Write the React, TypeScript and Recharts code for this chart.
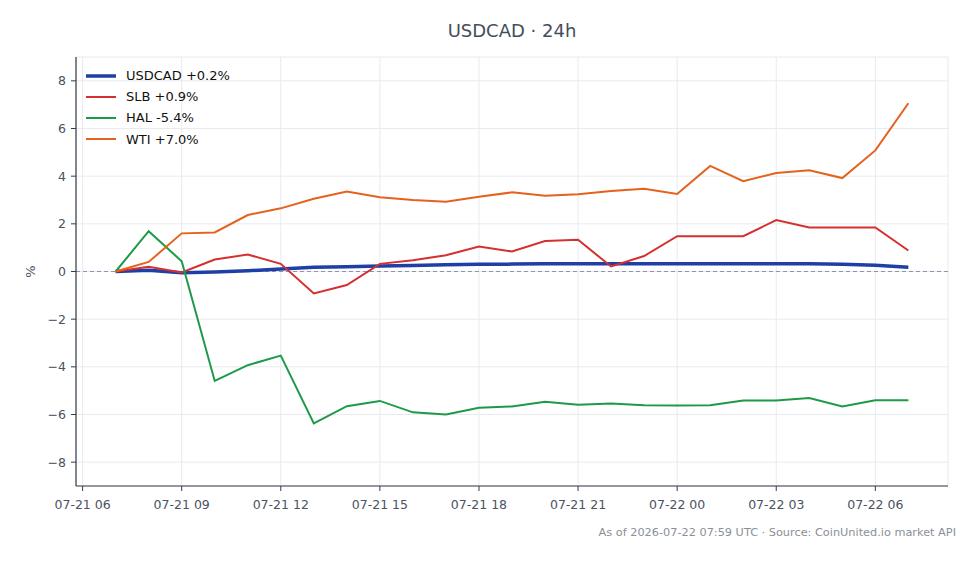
import React from "react";
import {
  LineChart,
  Line,
  XAxis,
  YAxis,
  CartesianGrid,
  ReferenceLine,
} from "recharts";

// hours since 2026-07-21 00:00 UTC
const hours = [7, 8, 9, 10, 11, 12, 13, 14, 15, 16, 17, 18, 19, 20, 21, 22, 23, 24, 25, 26, 27, 28, 29, 30, 31];

const usdcad = [0, 0.05, -0.05, -0.02, 0.03, 0.1, 0.18, 0.2, 0.23, 0.25, 0.28, 0.3, 0.31, 0.32, 0.33, 0.33, 0.33, 0.32, 0.32, 0.32, 0.32, 0.32, 0.3, 0.26, 0.18];
const slb = [0, 0.2, -0.04, 0.5, 0.71, 0.32, -0.92, -0.57, 0.32, 0.47, 0.68, 1.05, 0.84, 1.28, 1.33, 0.21, 0.65, 1.48, 1.48, 1.48, 2.16, 1.85, 1.85, 1.85, 0.88];
const hal = [0, 1.69, 0.43, -4.59, -3.93, -3.53, -6.37, -5.65, -5.43, -5.91, -6.0, -5.72, -5.66, -5.47, -5.59, -5.54, -5.61, -5.62, -5.61, -5.41, -5.41, -5.31, -5.66, -5.4, -5.4];
const wti = [0, 0.4, 1.6, 1.64, 2.37, 2.65, 3.05, 3.36, 3.12, 3.0, 2.93, 3.14, 3.32, 3.18, 3.24, 3.38, 3.47, 3.25, 4.43, 3.79, 4.13, 4.25, 3.92, 5.08, 7.06];

const xTicks = [6, 9, 12, 15, 18, 21, 24, 27, 30];
const yTicks = [-8, -6, -4, -2, 0, 2, 4, 6, 8];

const seriesInfo = [
  { key: "usdcad", name: "USDCAD +0.2%", color: "#1f3fa6", width: 3.5 },
  { key: "slb", name: "SLB +0.9%", color: "#d3302f", width: 2 },
  { key: "hal", name: "HAL -5.4%", color: "#1d9a48", width: 2 },
  { key: "wti", name: "WTI +7.0%", color: "#e5621c", width: 2 },
];

const data = hours.map((h, i) => ({
  h,
  usdcad: usdcad[i],
  slb: slb[i],
  hal: hal[i],
  wti: wti[i],
}));

const FONT = "'DejaVu Sans', sans-serif";
const TICK_COLOR = "#4a5263";
const AXIS_COLOR = "#333b4a";

const fmtX = (v: number) => {
  const day = 21 + Math.floor(v / 24);
  const hr = v % 24;
  return `07-${day} ${String(hr).padStart(2, "0")}`;
};
const fmtY = (v: number) => (v < 0 ? `\u2212${Math.abs(v)}` : `${v}`);

const LegendBox = () => (
  <div style={{ position: "absolute", left: 84, top: 65, fontFamily: FONT, fontSize: 13, color: "#111" }}>
    {seriesInfo.map((s) => (
      <div key={s.key} style={{ display: "flex", alignItems: "center", height: 21.2 }}>
        <svg width={42} height={10} style={{ display: "block" }}>
          <line x1={2} x2={32} y1={5} y2={5} stroke={s.color} strokeWidth={s.width} />
        </svg>
        <span>{s.name}</span>
      </div>
    ))}
  </div>
);

export default function App() {
  return (
    <div style={{ position: "absolute", left: 0, top: 0, width: 980, height: 564, background: "#fff", fontFamily: FONT }}>
      <div
        style={{
          position: "absolute",
          left: 76,
          width: 872,
          top: 20,
          textAlign: "center",
          fontSize: 18,
          color: "#454d5c",
          fontFamily: FONT,
        }}
      >
        USDCAD · 24h
      </div>
      <LineChart
        width={980}
        height={564}
        data={data}
        margin={{ top: 57, right: 32, bottom: 48, left: 0 }}
      >
        <CartesianGrid stroke="#e8eaf0" strokeWidth={1} />
        <XAxis
          dataKey="h"
          type="number"
          domain={[5.8, 32.2]}
          ticks={xTicks}
          tickFormatter={fmtX}
          allowDataOverflow
          height={30}
          tickSize={5}
          tickMargin={9}
          tick={{ fill: TICK_COLOR, fontSize: 12.5, fontFamily: FONT }}
          stroke={AXIS_COLOR}
          tickLine={{ stroke: AXIS_COLOR }}
          axisLine={{ stroke: AXIS_COLOR, strokeWidth: 1.2 }}
          interval={0}
        />
        <YAxis
          type="number"
          domain={[-9, 9]}
          ticks={yTicks}
          tickFormatter={fmtY}
          allowDataOverflow
          width={76}
          tickSize={5}
          tickMargin={5}
          tick={{ fill: TICK_COLOR, fontSize: 12.5, fontFamily: FONT }}
          tickLine={{ stroke: AXIS_COLOR }}
          axisLine={{ stroke: AXIS_COLOR, strokeWidth: 1.2 }}
          interval={0}
          label={{
            value: "%",
            angle: -90,
            position: "insideLeft",
            offset: 30,
            style: { fill: TICK_COLOR, fontSize: 13, fontFamily: FONT, textAnchor: "middle" },
          }}
        />
        <ReferenceLine y={0} stroke="#8d94ae" strokeDasharray="4 3" strokeWidth={1} />
        {seriesInfo.map((s) => (
          <Line
            key={s.key}
            type="linear"
            dataKey={s.key}
            name={s.name}
            stroke={s.color}
            strokeWidth={s.width}
            dot={false}
            activeDot={false}
            isAnimationActive={false}
          />
        ))}
      </LineChart>
      <LegendBox />
      <div
        style={{
          position: "absolute",
          right: 24,
          top: 526,
          fontSize: 11.3,
          color: "#8a8f99",
          fontFamily: FONT,
          whiteSpace: "nowrap",
        }}
      >
        As of 2026-07-22 07:59 UTC · Source: CoinUnited.io market API
      </div>
    </div>
  );
}
